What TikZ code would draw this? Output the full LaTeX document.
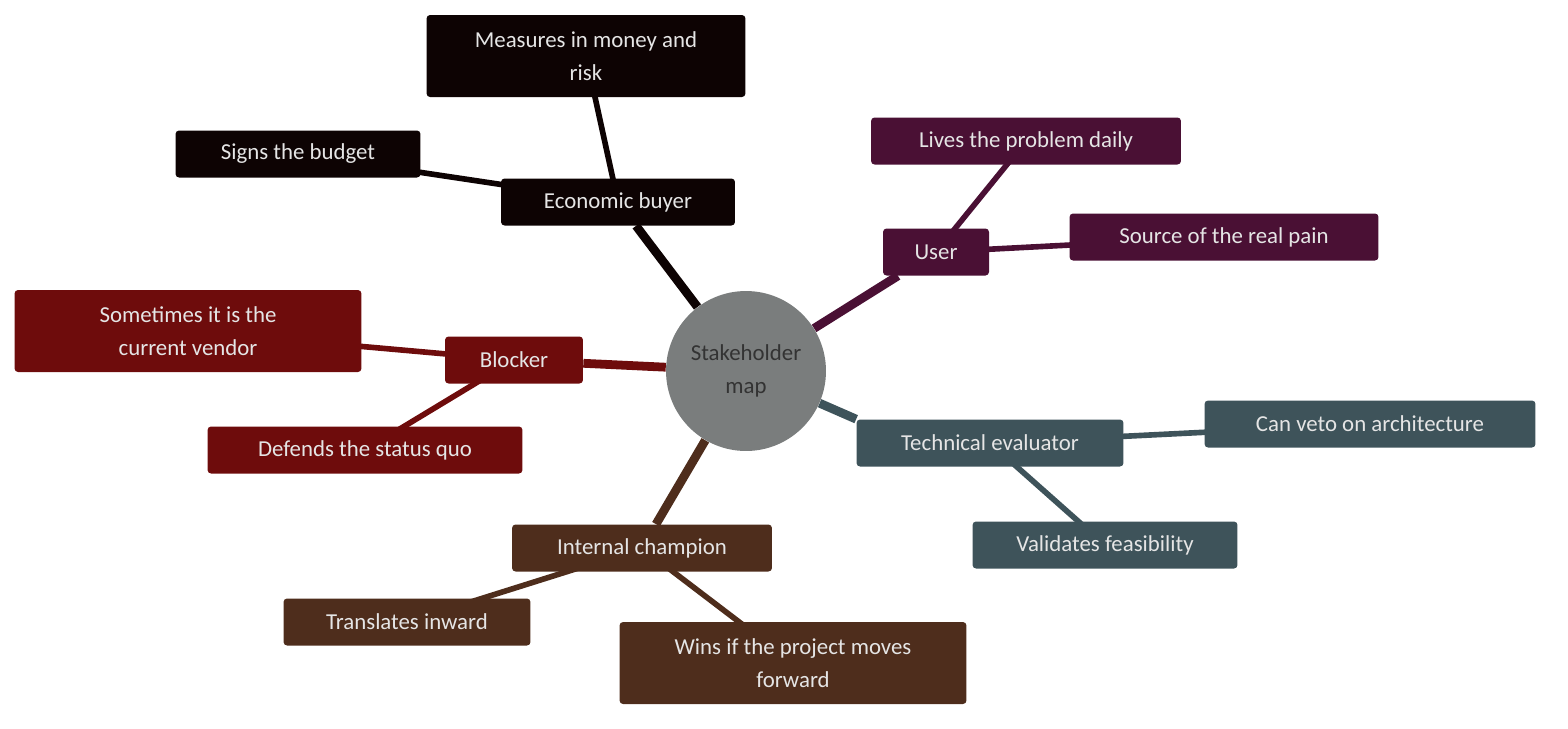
\documentclass[tikz,border=0pt]{standalone}
\usepackage{fontspec}
\setmainfont{Carlito}
\usetikzlibrary{backgrounds}
\definecolor{buyercol}{HTML}{0D0303}
\definecolor{usercol}{HTML}{4A1034}
\definecolor{blockcol}{HTML}{6E0C0C}
\definecolor{techcol}{HTML}{3E535A}
\definecolor{champcol}{HTML}{4E2D1C}
\definecolor{hubcol}{HTML}{7A7D7D}
\tikzset{
  box/.style={rounded corners=2pt, text=white!90!black, align=center, font=\fontsize{13}{19}\selectfont, inner sep=0pt, minimum height=0.94cm},
  trunk/.style={line width=5pt},
  twig/.style={line width=3.2pt},
}
\begin{document}
\begin{tikzpicture}[x=0.02cm,y=-0.02cm]
    \useasboundingbox (0,0) rectangle (1568,728);
    % hub
    \node[circle, fill=hubcol, minimum size=3.2cm, align=center, text=black!80, font=\fontsize{13}{19}\selectfont] (hub) at (746,371) {Stakeholder\\map};
    % main branches
    \node[box, fill=buyercol, minimum width=4.68cm] (buyer) at (618,202) {Economic buyer};
    \node[box, fill=usercol, minimum width=2.12cm] (user) at (936,252) {User};
    \node[box, fill=blockcol, minimum width=2.76cm] (block) at (514,360) {Blocker};
    \node[box, fill=techcol, minimum width=5.34cm] (tech) at (990,443) {Technical evaluator};
    \node[box, fill=champcol, minimum width=5.2cm] (champ) at (642,548) {Internal champion};
    % leaves
    \node[box, fill=buyercol, minimum width=6.38cm, minimum height=1.64cm] (money) at (586,56) {Measures in money and\\risk};
    \node[box, fill=buyercol, minimum width=4.9cm] (budget) at (298,154) {Signs the budget};
    \node[box, fill=usercol, minimum width=6.2cm] (daily) at (1026,141) {Lives the problem daily};
    \node[box, fill=usercol, minimum width=6.18cm] (pain) at (1224,237) {Source of the real pain};
    \node[box, fill=blockcol, minimum width=6.94cm, minimum height=1.64cm] (vendor) at (188,331) {Sometimes it is the\\current vendor};
    \node[box, fill=blockcol, minimum width=6.3cm] (quo) at (365,450) {Defends the status quo};
    \node[box, fill=techcol, minimum width=6.62cm] (veto) at (1370,424) {Can veto on architecture};
    \node[box, fill=techcol, minimum width=5.3cm] (feas) at (1105,545) {Validates feasibility};
    \node[box, fill=champcol, minimum width=4.94cm] (inward) at (407,622) {Translates inward};
    \node[box, fill=champcol, minimum width=6.94cm, minimum height=1.64cm] (wins) at (793,663) {Wins if the project moves\\forward};
    % connectors
    \begin{scope}[on background layer]
        \draw[trunk, buyercol] (hub) -- (buyer);
        \draw[trunk, usercol] (hub) -- (user);
        \draw[trunk, blockcol] (hub) -- (block);
        \draw[trunk, techcol] (hub) -- (tech.north west);
        \draw[trunk, champcol] (hub) -- (champ);
        \draw[twig, buyercol] (buyer.center) -- (money.center);
        \draw[twig, buyercol] (buyer.center) -- (budget.center);
        \draw[twig, usercol] (user.center) -- (daily.center);
        \draw[twig, usercol] (user.center) -- (pain.center);
        \draw[twig, blockcol] (block.center) -- (vendor.center);
        \draw[twig, blockcol] (block.center) -- (quo.center);
        \draw[twig, techcol] (tech.center) -- (veto.center);
        \draw[twig, techcol] (tech.center) -- (feas.center);
        \draw[twig, champcol] (champ.center) -- (inward.center);
        \draw[twig, champcol] (champ.center) -- (wins.center);
    \end{scope}
\end{tikzpicture}
\end{document}
